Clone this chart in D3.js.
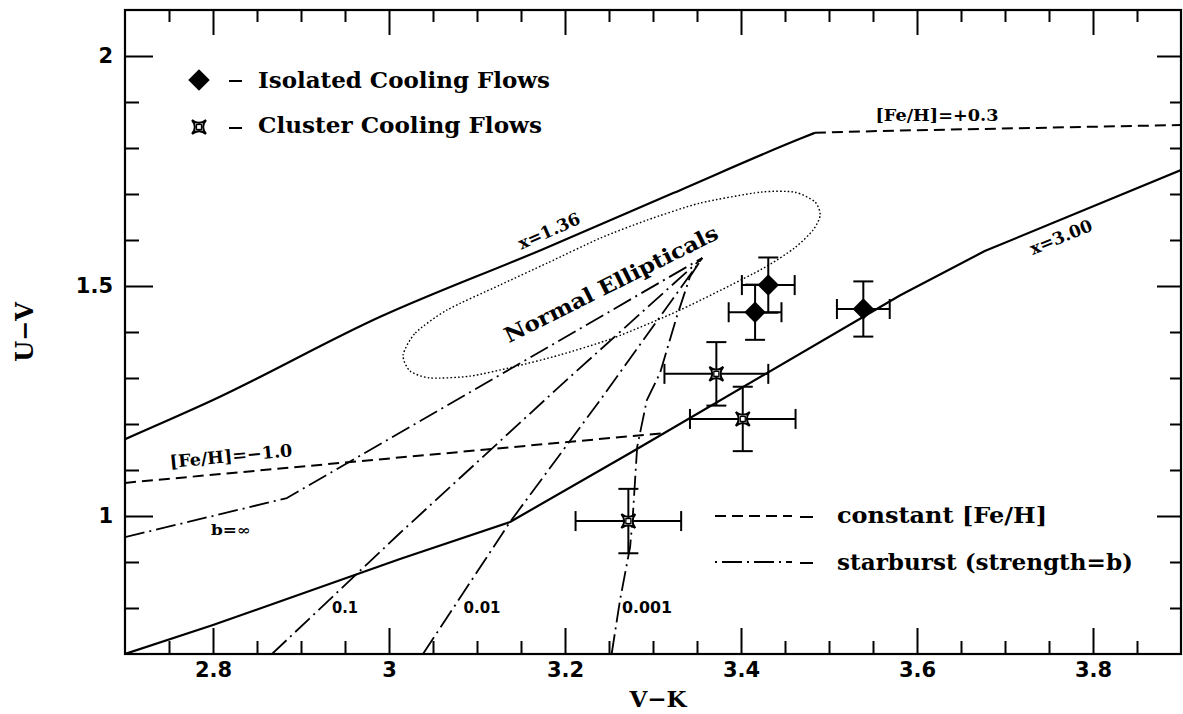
<!DOCTYPE html>
<html>
<head>
<meta charset="utf-8">
<script src="https://cdn.jsdelivr.net/npm/d3@7"></script>
<style>
  html, body { margin: 0; padding: 0; background: #fff; }
  svg { display: block; }
</style>
</head>
<body>
<svg id="chart" width="1183" height="714"></svg>
<script>
// ---------------- DATA ----------------
const xDomain = [2.7, 3.9];
const yDomain = [0.7, 2.1];
const xMajorTicks = [2.8, 3.0, 3.2, 3.4, 3.6, 3.8];
const xTickLabels = ["2.8", "3", "3.2", "3.4", "3.6", "3.8"];
const yMajorTicks = [1.0, 1.5, 2.0];
const yTickLabels = ["1", "1.5", "2"];

// model tracks [V-K, U-V]
const imfX136 = [[2.7,1.167],[2.8,1.252],[2.99,1.433],[3.175,1.580],[3.323,1.702],[3.467,1.820],[3.484,1.833]];
const imfX300 = [[2.7,0.700],[2.8,0.763],[3.0125,0.9065],[3.1375,0.987],[3.274,1.137],[3.581,1.480],[3.677,1.576],[3.9,1.752]];
const feHPlus03 = [[3.484,1.833],[3.558,1.837],[3.9,1.850]];
const feHMinus10 = [[2.7,1.072],[3.311,1.180]];

// starburst tracks
const burstInf  = [[2.7,0.954],[2.884,1.039],[3.356,1.561]];
const burst0p1  = [[2.867,0.700],[3.0125,0.963],[3.202,1.296],[3.356,1.561]];
const burst0p01 = [[3.0386,0.700],[3.1375,0.987],[3.240,1.252],[3.356,1.561]];
const burst0p001 = [[3.253,0.700],[3.2625,0.817],[3.274,0.933],[3.277,0.998],[3.282,1.150],
                    [3.293,1.252],[3.308,1.311],[3.327,1.433],[3.342,1.520],[3.356,1.561]];

// normal ellipticals locus (outline)
const ellipticalLocus = [[3.016,1.350],[3.030,1.398],[3.066,1.448],[3.126,1.502],[3.180,1.550],
  [3.240,1.604],[3.293,1.643],[3.353,1.680],[3.422,1.704],[3.461,1.704],[3.484,1.683],
  [3.490,1.654],[3.482,1.622],[3.461,1.583],[3.422,1.535],[3.331,1.448],[3.255,1.387],
  [3.194,1.350],[3.141,1.324],[3.092,1.304],[3.047,1.300],[3.024,1.315]];

// Isolated cooling flows
const isoVK    = [3.431, 3.416, 3.539];
const isoUV    = [1.502, 1.443, 1.450];
const isoErrVK = [0.030, 0.030, 0.030];
const isoErrUV = [0.060, 0.060, 0.060];

// Cluster cooling flows
const cluVK    = [3.372, 3.402, 3.272];
const cluUV    = [1.309, 1.211, 0.989];
const cluErrVK = [0.059, 0.060, 0.060];
const cluErrUV = [0.069, 0.070, 0.070];

// ---------------- CHART ----------------
const svg = d3.select("#chart");
const L = 125, R = 1181, T = 10, B = 654;
const x = d3.scaleLinear().domain(xDomain).range([L, R]);
const y = d3.scaleLinear().domain(yDomain).range([B, T]);

const SERIF = "'DejaVu Serif', serif";
const SANS = "'DejaVu Sans', sans-serif";

const line = d3.line().x(d => x(d[0])).y(d => y(d[1]));

svg.append("defs").append("clipPath").attr("id", "plotclip")
  .append("rect").attr("x", L).attr("y", T).attr("width", R - L).attr("height", B - T);

const plot = svg.append("g").attr("clip-path", "url(#plotclip)");

function drawLine(data, dash, width, curve) {
  const gen = curve ? d3.line().x(d => x(d[0])).y(d => y(d[1])).curve(curve) : line;
  plot.append("path").attr("d", gen(data)).attr("fill", "none")
    .attr("stroke", "#000").attr("stroke-width", width)
    .attr("stroke-linejoin", "round")
    .attr("stroke-dasharray", dash || null);
}

const DASH = "11,6";
const DASHDOT = "20,5,2,5";

drawLine(imfX136, null, 2.2, d3.curveMonotoneX);
drawLine(imfX300, null, 2.2);
drawLine(feHPlus03, DASH, 2);
drawLine(feHMinus10, DASH, 2);
drawLine(burstInf, DASHDOT, 1.8);
drawLine(burst0p1, DASHDOT, 1.8);
drawLine(burst0p01, DASHDOT, 1.8);
drawLine(burst0p001, DASHDOT, 1.8);

plot.append("path")
  .attr("d", d3.line().x(d => x(d[0])).y(d => y(d[1])).curve(d3.curveCardinalClosed.tension(0.3))(ellipticalLocus))
  .attr("fill", "none").attr("stroke", "#000").attr("stroke-width", 1.4)
  .attr("stroke-dasharray", "1.6,2.2");

// error bars
function errorBars(vk, uv, evk, euv) {
  const cap = 10;
  vk.forEach((v, i) => {
    const cx = x(v), cy = y(uv[i]);
    const x0 = x(v - evk[i]), x1 = x(v + evk[i]);
    const y0 = y(uv[i] - euv[i]), y1 = y(uv[i] + euv[i]);
    const g = plot.append("g").attr("stroke", "#000").attr("stroke-width", 2);
    g.append("line").attr("x1", x0).attr("x2", x1).attr("y1", cy).attr("y2", cy);
    g.append("line").attr("x1", cx).attr("x2", cx).attr("y1", y0).attr("y2", y1);
    g.append("line").attr("x1", x0).attr("x2", x0).attr("y1", cy - cap).attr("y2", cy + cap);
    g.append("line").attr("x1", x1).attr("x2", x1).attr("y1", cy - cap).attr("y2", cy + cap);
    g.append("line").attr("x1", cx - cap).attr("x2", cx + cap).attr("y1", y0).attr("y2", y0);
    g.append("line").attr("x1", cx - cap).attr("x2", cx + cap).attr("y1", y1).attr("y2", y1);
  });
}
errorBars(isoVK, isoUV, isoErrVK, isoErrUV);
errorBars(cluVK, cluUV, cluErrVK, cluErrUV);

const diamondPath = d3.symbol(d3.symbolSquare, 230)();
function starPath(s) {
  const c = s * 0.18;
  return `M${-s},${-s} Q0,${-c} ${s},${-s} Q${c},0 ${s},${s} Q0,${c} ${-s},${s} Q${-c},0 ${-s},${-s} Z`;
}

function drawDiamond(g, cx, cy) {
  g.append("path").attr("d", diamondPath)
    .attr("transform", `translate(${cx},${cy}) rotate(45)`)
    .attr("fill", "#000");
}
function drawStar(g, cx, cy) {
  g.append("path").attr("d", starPath(7))
    .attr("transform", `translate(${cx},${cy})`)
    .attr("fill", "#fff").attr("stroke", "#000").attr("stroke-width", 2);
  g.append("rect").attr("x", cx - 2.5).attr("y", cy - 2.5).attr("width", 5).attr("height", 5)
    .attr("fill", "none").attr("stroke", "#000").attr("stroke-width", 1.3);
}

isoVK.forEach((v, i) => drawDiamond(plot, x(v), y(isoUV[i])));
cluVK.forEach((v, i) => drawStar(plot, x(v), y(cluUV[i])));

// ---------------- AXES ----------------
const xMinor = d3.range(55, 78).filter(i => i % 4 !== 0).map(i => i * 0.05);
const yMinor = d3.range(8, 21).filter(i => i % 5 !== 0).map(i => i / 10);

function styleAxis(g, fontFamily) {
  g.select(".domain").remove();
  g.selectAll(".tick line").attr("stroke", "#000").attr("stroke-width", 2);
  g.selectAll(".tick text").attr("font-family", fontFamily).attr("font-size", 21)
    .attr("font-weight", "bold").attr("fill", "#000");
}

const fmtX = d => xTickLabels[xMajorTicks.indexOf(d)];
const fmtY = d => yTickLabels[yMajorTicks.indexOf(d)];

svg.append("g").attr("transform", `translate(0,${B})`)
  .call(d3.axisBottom(x).tickValues(xMajorTicks).tickFormat(fmtX).tickSizeInner(-26).tickSizeOuter(0).tickPadding(8))
  .call(g => styleAxis(g, SANS));
svg.append("g").attr("transform", `translate(0,${B})`)
  .call(d3.axisBottom(x).tickValues(xMinor).tickFormat("").tickSizeInner(-13).tickSizeOuter(0))
  .call(g => styleAxis(g, SANS));
svg.append("g").attr("transform", `translate(0,${T})`)
  .call(d3.axisTop(x).tickValues(xMajorTicks).tickFormat("").tickSizeInner(-25).tickSizeOuter(0))
  .call(g => styleAxis(g, SANS));
svg.append("g").attr("transform", `translate(0,${T})`)
  .call(d3.axisTop(x).tickValues(xMinor).tickFormat("").tickSizeInner(-12).tickSizeOuter(0))
  .call(g => styleAxis(g, SANS));
svg.append("g").attr("transform", `translate(${L},0)`)
  .call(d3.axisLeft(y).tickValues(yMajorTicks).tickFormat(fmtY).tickSizeInner(-28).tickSizeOuter(0).tickPadding(12))
  .call(g => styleAxis(g, SANS));
svg.append("g").attr("transform", `translate(${L},0)`)
  .call(d3.axisLeft(y).tickValues(yMinor).tickFormat("").tickSizeInner(-14).tickSizeOuter(0))
  .call(g => styleAxis(g, SANS));
svg.append("g").attr("transform", `translate(${R},0)`)
  .call(d3.axisRight(y).tickValues(yMajorTicks).tickFormat("").tickSizeInner(-24).tickSizeOuter(0))
  .call(g => styleAxis(g, SANS));
svg.append("g").attr("transform", `translate(${R},0)`)
  .call(d3.axisRight(y).tickValues(yMinor).tickFormat("").tickSizeInner(-11).tickSizeOuter(0))
  .call(g => styleAxis(g, SANS));

svg.append("rect").attr("x", L).attr("y", T).attr("width", R - L).attr("height", B - T)
  .attr("fill", "none").attr("stroke", "#000").attr("stroke-width", 2.2);

// axis titles
svg.append("text").attr("x", 658).attr("y", 707).attr("text-anchor", "middle")
  .attr("font-family", SERIF).attr("font-weight", "bold").attr("font-size", 23).text("V\u2212K");
svg.append("text").attr("transform", "translate(33,332) rotate(-90)").attr("text-anchor", "middle")
  .attr("font-family", SERIF).attr("font-weight", "bold").attr("font-size", 24).text("U\u2212V");

// ---------------- ANNOTATIONS ----------------
function label(txt, cx, cy, angle, size, family, len) {
  const t = svg.append("text")
    .attr("transform", `translate(${cx},${cy}) rotate(${angle})`)
    .attr("text-anchor", "middle").attr("dy", "0.35em")
    .attr("font-family", family).attr("font-weight", "bold").attr("font-size", size)
    .text(txt);
  if (len) t.attr("textLength", len).attr("lengthAdjust", "spacingAndGlyphs");
  return t;
}
label("Normal Ellipticals", 611, 284, -26.5, 21, SERIF, 236);
label("x=1.36", 549, 231, -24, 17, SERIF, 66);
label("x=3.00", 1061, 237, -22, 17, SERIF, 66);
label("[Fe/H]=+0.3", 937, 115, 0, 17, SERIF, 123);
label("[Fe/H]=\u22121.0", 231, 456, -5.5, 17, SERIF, 123);
label("b=\u221e", 231, 530, 0, 14, SERIF, 40);
label("0.1", 345, 608, 0, 15, SANS, 26);
label("0.01", 482, 608, 0, 15, SANS, 37);
label("0.001", 647, 608, 0, 15, SANS, 50);

// ---------------- LEGEND ----------------
const leg = svg.append("g");
function legText(txt, x0, yb, len) {
  leg.append("text").attr("x", x0).attr("y", yb)
    .attr("font-family", SERIF).attr("font-weight", "bold").attr("font-size", 22)
    .attr("textLength", len).attr("lengthAdjust", "spacingAndGlyphs").text(txt);
}
function legDash(x0, yc) {
  leg.append("line").attr("x1", x0).attr("x2", x0 + 13).attr("y1", yc).attr("y2", yc)
    .attr("stroke", "#000").attr("stroke-width", 2);
}
drawDiamond(leg, 199, 80);
legDash(229, 81);
legText("Isolated Cooling Flows", 258, 88, 292);

drawStar(leg, 199, 127);
legDash(229, 128);
legText("Cluster Cooling Flows", 258, 133, 284);

leg.append("line").attr("x1", 715).attr("x2", 792).attr("y1", 516).attr("y2", 516)
  .attr("stroke", "#000").attr("stroke-width", 2).attr("stroke-dasharray", DASH);
legDash(800, 517);
legText("constant [Fe/H]", 837, 523, 210);

leg.append("line").attr("x1", 715).attr("x2", 792).attr("y1", 562).attr("y2", 562)
  .attr("stroke", "#000").attr("stroke-width", 1.8).attr("stroke-dasharray", "2,5,20,5");
legDash(800, 563);
legText("starburst (strength=b)", 837, 570, 296);
</script>
</body>
</html>
